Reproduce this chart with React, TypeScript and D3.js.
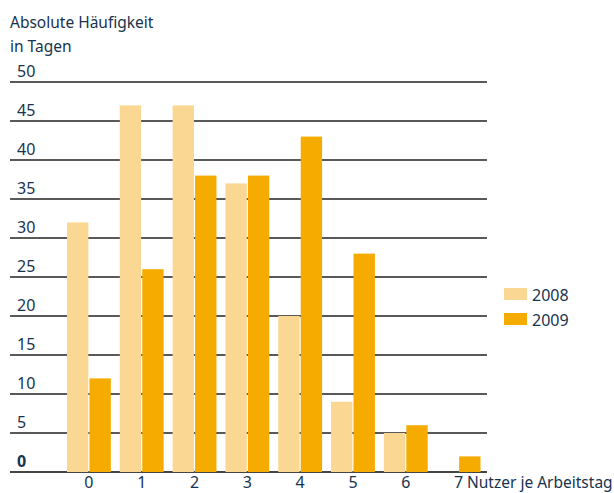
import React from "react";
import * as d3 from "d3";

const categories = ["0", "1", "2", "3", "4", "5", "6", "7"];
const series2008 = [32, 47, 47, 37, 20, 9, 5, 0];
const series2009 = [12, 26, 38, 38, 43, 28, 6, 2];
const seriesNames = ["2008", "2009"];
const yTicks = [0, 5, 10, 15, 20, 25, 30, 35, 40, 45, 50];

const W = 614;
const H = 493;
const colors = ["#fbd794", "#f5ab00"];
const textColor = "#17334f";
const font = "'Noto Sans', 'Open Sans', sans-serif";

export default function App() {
  const y = d3.scaleLinear().domain([0, 50]).range([472, 82]);
  const x0 = d3.scaleBand().domain(categories).range([62.5, 485]).paddingInner(0.17).paddingOuter(0.085);
  const x1 = d3.scaleBand().domain(seriesNames).range([0, x0.bandwidth()]).paddingInner(0.05);
  const data = [series2008, series2009];
  return (
    <svg width={W} height={H} style={{ position: "absolute", left: 0, top: 0, background: "#fff" }} fontFamily={font}>
      <text x={10} y={28} fontSize={15.5} fill={textColor}>Absolute Häufigkeit</text>
      <text x={10} y={52} fontSize={15.5} fill={textColor}>in Tagen</text>
      {yTicks.map((t) => (
        <g key={t}>
          <line x1={10} x2={487} y1={y(t)} y2={y(t)} stroke={t === 0 ? "#444" : "#222"} strokeWidth={t === 0 ? 2 : 1.3} />
          <text x={17} y={y(t) - 5} fontSize={16} fill={textColor} fontWeight={t === 0 ? "bold" : "normal"}>{t}</text>
        </g>
      ))}
      {categories.map((c, i) => (
        <g key={c} transform={`translate(${x0(c)},0)`}>
          {seriesNames.map((s, j) => {
            const v = data[j][i];
            if (!v) return null;
            return <rect key={s} x={x1(s)} y={y(v)} width={x1.bandwidth()} height={y(0) - y(v)} fill={colors[j]} />;
          })}
          <text x={x0.bandwidth() / 2} y={488} fontSize={16} fill={textColor} textAnchor="middle">{c}</text>
        </g>
      ))}
      <text x={467} y={488} fontSize={15.5} fill={textColor}>Nutzer je Arbeitstag</text>
      {seriesNames.map((s, j) => (
        <g key={s} transform={`translate(504,${288 + j * 25})`}>
          <rect x={0} y={0} width={23} height={12} fill={colors[j]} />
          <text x={28} y={13} fontSize={16} fill={textColor}>{s}</text>
        </g>
      ))}
    </svg>
  );
}
